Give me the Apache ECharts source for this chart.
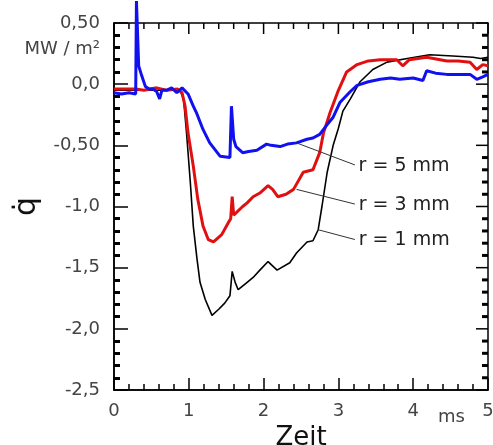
<!DOCTYPE html>
<html>
<head>
<meta charset="utf-8">
<script src="https://cdn.jsdelivr.net/npm/echarts@6/dist/echarts.min.js"></script>
<style>
html, body { margin: 0; padding: 0; background: #fff; }
#chart { width: 493px; height: 445px; }
</style>
</head>
<body>
<div id="chart"></div>
<script>
// time in ms, heat flux in MW/m2
var blueT = [0.00, 0.10, 0.20, 0.29, 0.30, 0.33, 0.37, 0.42, 0.47, 0.52, 0.57, 0.61, 0.64, 0.70, 0.77, 0.84, 0.91, 0.99, 1.06, 1.10, 1.19, 1.28, 1.42, 1.55, 1.57, 1.60, 1.63, 1.72, 1.80, 1.91, 2.04, 2.10, 2.22, 2.32, 2.44, 2.58, 2.66, 2.75, 2.85, 2.93, 3.02, 3.16, 3.25, 3.40, 3.56, 3.70, 3.82, 4.00, 4.13, 4.18, 4.30, 4.45, 4.60, 4.76, 4.85, 4.93, 5.00];
var blueQ = [-0.07, -0.08, -0.07, -0.08, 0.68, 0.15, 0.07, -0.02, -0.04, -0.04, -0.06, -0.12, -0.05, -0.05, -0.03, -0.07, -0.03, -0.08, -0.18, -0.23, -0.37, -0.48, -0.59, -0.60, -0.18, -0.45, -0.51, -0.56, -0.55, -0.54, -0.49, -0.50, -0.51, -0.49, -0.48, -0.45, -0.44, -0.41, -0.33, -0.27, -0.15, -0.06, -0.01, 0.02, 0.04, 0.05, 0.04, 0.05, 0.03, 0.11, 0.09, 0.08, 0.08, 0.08, 0.04, 0.06, 0.08];

var redT = [0.00, 0.29, 0.40, 0.57, 0.70, 0.85, 0.91, 0.95, 0.99, 1.06, 1.12, 1.19, 1.26, 1.33, 1.44, 1.53, 1.56, 1.58, 1.60, 1.72, 1.78, 1.86, 1.95, 2.06, 2.12, 2.19, 2.30, 2.40, 2.53, 2.66, 2.75, 2.80, 2.89, 3.00, 3.11, 3.25, 3.40, 3.56, 3.78, 3.86, 3.95, 4.18, 4.45, 4.60, 4.76, 4.85, 4.93, 5.00];
var redQ = [-0.04, -0.04, -0.05, -0.03, -0.05, -0.04, -0.07, -0.18, -0.40, -0.67, -0.94, -1.16, -1.27, -1.29, -1.23, -1.13, -1.10, -0.92, -1.07, -1.00, -0.97, -0.92, -0.89, -0.83, -0.86, -0.92, -0.90, -0.86, -0.72, -0.70, -0.56, -0.40, -0.23, -0.05, 0.10, 0.16, 0.19, 0.20, 0.20, 0.15, 0.20, 0.22, 0.19, 0.19, 0.18, 0.12, 0.16, 0.15];

var blackT = [0.00, 0.29, 0.40, 0.70, 0.88, 0.93, 0.97, 1.02, 1.06, 1.11, 1.15, 1.22, 1.31, 1.40, 1.48, 1.55, 1.58, 1.62, 1.66, 1.78, 1.86, 1.95, 2.06, 2.18, 2.35, 2.44, 2.58, 2.66, 2.73, 2.78, 2.85, 2.93, 3.00, 3.06, 3.16, 3.29, 3.46, 3.65, 3.92, 4.22, 4.53, 4.80, 4.90, 5.00];
var blackQ = [-0.05, -0.05, -0.05, -0.05, -0.05, -0.12, -0.40, -0.80, -1.16, -1.43, -1.62, -1.76, -1.89, -1.84, -1.79, -1.73, -1.53, -1.62, -1.68, -1.62, -1.58, -1.52, -1.45, -1.52, -1.46, -1.38, -1.29, -1.28, -1.19, -1.00, -0.72, -0.50, -0.36, -0.22, -0.12, 0.02, 0.12, 0.18, 0.21, 0.24, 0.23, 0.22, 0.21, 0.22];

var yTickLabels = ['-2,5', '-2,0', '-1,5', '-1,0', '-0,50', '0,0', '0,50'];
var xTickLabels = ['0', '1', '2', '3', '4', '5'];

// tick positions on the top and right frame edges
var topTicks = [0, 0.2, 0.4, 0.6, 0.8, 1, 1.2, 1.4, 1.6, 1.8, 2, 2.2, 2.4, 2.6, 2.8, 3, 3.2, 3.4, 3.6, 3.8, 4, 4.2, 4.4, 4.6, 4.8, 5];
var rightTicks = [-2.5, -2.4, -2.3, -2.2, -2.1, -2, -1.9, -1.8, -1.7, -1.6, -1.5, -1.4, -1.3, -1.2, -1.1, -1, -0.9, -0.8, -0.7, -0.6, -0.5, -0.4, -0.3, -0.2, -0.1, 0, 0.1, 0.2, 0.3, 0.4, 0.5];

var annotLabels = ['r = 5 mm', 'r = 3 mm', 'r = 1 mm'];
var annotFrom = [[2.44, -0.48], [2.44, -0.86], [2.73, -1.19]];
var annotTo = [[3.22, -0.66], [3.22, -0.98], [3.22, -1.27]];

function pairs(t, q) {
  return t.map(function (v, i) { return [v, q[i]]; });
}

var font = 'DejaVu Sans';
var chart = echarts.init(document.getElementById('chart'));

var axisLineStyle = { color: '#000', width: 1.5 };

var frameTicks = topTicks.map(function (v) { return [v, 0]; })
  .concat(rightTicks.map(function (v) { return [v, 1]; }));

function renderFrameTick(params, api) {
  var v = api.value(0);
  var side = api.value(1);
  if (side === 0) {
    var major = Math.abs(v - Math.round(v)) < 1e-6;
    var p = api.coord([v, 0.5]);
    return {
      type: 'line',
      shape: { x1: p[0], y1: p[1], x2: p[0], y2: p[1] + (major ? 11 : 6) },
      style: { stroke: '#000', lineWidth: 1.5 }
    };
  }
  var majorY = Math.abs(v * 2 - Math.round(v * 2)) < 1e-6;
  var q = api.coord([5, v]);
  return {
    type: 'line',
    shape: { x1: q[0], y1: q[1], x2: q[0] - (majorY ? 12 : 6), y2: q[1] },
    style: { stroke: '#000', lineWidth: majorY ? 1.5 : 3 }
  };
}

var option = {
  animation: false,
  backgroundColor: '#fff',
  grid: {
    left: 114, right: 5, top: 23, bottom: 55,
    outerBoundsMode: 'none', containLabel: false,
    show: true, borderColor: '#000', borderWidth: 1.5, backgroundColor: 'transparent'
  },
  xAxis: {
    type: 'value', min: 0, max: 5, interval: 1, position: 'bottom',
    axisLine: { onZero: false, lineStyle: axisLineStyle },
    axisTick: { inside: true, length: 12, lineStyle: { color: '#000', width: 1.5 } },
    minorTick: { show: true, splitNumber: 5, length: 6, lineStyle: { color: '#000', width: 1.5 } },
    splitLine: { show: false },
    axisLabel: {
      margin: 12, fontSize: 18, fontFamily: font, color: '#444',
      formatter: function (v) { return xTickLabels[Math.round(v)]; }
    },
    name: 'Zeit', nameLocation: 'middle', nameGap: 25,
    nameTextStyle: { fontSize: 26, fontFamily: font, color: '#111' }
  },
  yAxis: {
    type: 'value', min: -2.5, max: 0.5, interval: 0.5, position: 'left',
    axisLine: { show: true, onZero: false, lineStyle: axisLineStyle },
    axisTick: { show: true, inside: true, length: 14, lineStyle: { color: '#000', width: 1.5 } },
    minorTick: { show: true, splitNumber: 5, length: 6, lineStyle: { color: '#000', width: 3 } },
    splitLine: { show: false },
    axisLabel: {
      margin: 14, fontSize: 18, fontFamily: font, color: '#444',
      formatter: function (v) { return yTickLabels[Math.round((v + 2.5) / 0.5)]; }
    },
    name: 'q\u0307', nameLocation: 'middle', nameGap: 52,
    nameTextStyle: { fontSize: 30, fontFamily: font, color: '#111' }
  },
  graphic: [
    {
      type: 'text', right: 493 - 100, top: 40,
      style: { text: 'MW / m\u00b2', font: '18px "DejaVu Sans"', fill: '#444', textAlign: 'right' }
    },
    {
      type: 'text', left: 438, top: 408,
      style: { text: 'ms', font: '18px "DejaVu Sans"', fill: '#444' }
    }
  ],
  series: [
    {
      name: 'frame ticks', type: 'custom', data: frameTicks, silent: true,
      renderItem: renderFrameTick, clip: false
    },
    {
      name: 'r = 1 mm', type: 'line', data: pairs(blackT, blackQ),
      showSymbol: false, clip: false,
      lineStyle: { color: '#000', width: 1.6 },
      markLine: {
        silent: true, symbol: ['none', 'none'],
        lineStyle: { color: '#333', width: 1, type: 'solid' },
        label: { show: true, position: 'end', formatter: '{b}', fontSize: 19, fontFamily: font, color: '#222', distance: 4 },
        data: annotLabels.map(function (lab, i) {
          return [{ coord: annotFrom[i], name: lab }, { coord: annotTo[i] }];
        })
      }
    },
    {
      name: 'r = 3 mm', type: 'line', data: pairs(redT, redQ),
      showSymbol: false, clip: false,
      lineStyle: { color: '#e01010', width: 3 }
    },
    {
      name: 'r = 5 mm', type: 'line', data: pairs(blueT, blueQ),
      showSymbol: false, clip: false,
      lineStyle: { color: '#1010f0', width: 3 }
    }
  ]
};

chart.setOption(option);
</script>
</body>
</html>
